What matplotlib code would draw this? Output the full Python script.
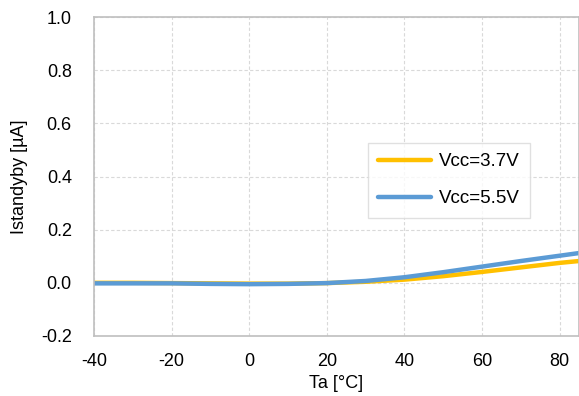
import numpy as np
import matplotlib
matplotlib.use("Agg")
import matplotlib.pyplot as plt

plt.rcParams['font.family'] = ['Liberation Sans', 'DejaVu Sans']
plt.rcParams['axes.unicode_minus'] = False

ta = [-40, -30, -20, -10, 0, 10, 20, 30, 40, 50, 60, 70, 80, 85]
i_37 = [0.000, 0.000, -0.001, -0.002, -0.003, -0.003, -0.001, 0.004, 0.012, 0.025, 0.041, 0.058, 0.075, 0.082]
i_55 = [-0.002, -0.002, -0.002, -0.004, -0.005, -0.004, -0.001, 0.007, 0.021, 0.040, 0.061, 0.082, 0.102, 0.112]

fig = plt.figure(figsize=(5.79, 3.96), dpi=100)
ax = fig.add_axes([94/579, 1 - 336/396, (579 - 94)/579, (336 - 17)/396])

ax.plot(ta, i_37, color='#FFC000', lw=3.2, label='Vcc=3.7V', solid_capstyle='round')
ax.plot(ta, i_55, color='#5B9BD5', lw=3.2, label='Vcc=5.5V', solid_capstyle='round')

ax.set_xlim(-40, 85)
ax.set_ylim(-0.2, 1.0)
ax.set_xticks(range(-40, 81, 20))
ax.set_yticks(np.arange(-0.2, 1.01, 0.2))
ax.set_yticklabels(['%.1f' % v for v in np.arange(-0.2, 1.01, 0.2)])
ax.grid(True, color='#D9D9D9', ls=(0, (3, 2)), lw=0.8)
for s in ax.spines.values():
    s.set_color('#BFBFBF')
    s.set_linewidth(1.2)
ax.tick_params(axis='y', length=0, labelsize=13, pad=16)
ax.tick_params(axis='x', length=0, labelsize=13, pad=12)

ax.set_xlabel('Ta [°C]', fontsize=13, labelpad=4)
ax.set_ylabel('Istandyby [µA]', fontsize=13, labelpad=9)

leg = ax.legend(loc='upper left', bbox_to_anchor=((368 - 94)/485, 1 - (143 - 17)/319),
                borderaxespad=0, fontsize=13.5, frameon=True, fancybox=False,
                edgecolor='#D9D9D9', handlelength=2.8, borderpad=0.55,
                labelspacing=1.05, handletextpad=0.45)
leg.get_frame().set_linewidth(1)

fig.savefig('out.png', dpi=100)
